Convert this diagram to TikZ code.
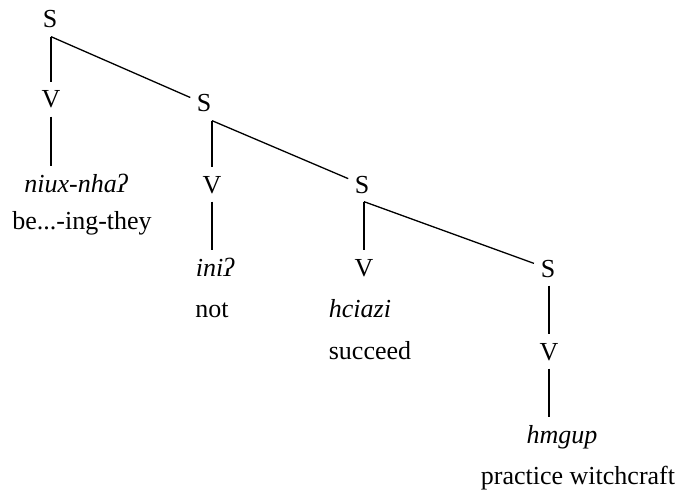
\documentclass[tikz,border=0pt]{standalone}
\usepackage{fontspec}
\setmainfont{Liberation Serif}
\begin{document}
\begin{tikzpicture}[x=1pt, y=-1pt, line width=1.3pt,
    lab/.style={anchor=base, inner xsep=0pt, inner ysep=8pt, text height=17pt, text depth=0pt, font=\fontsize{26}{30}\selectfont},
    word/.style={lab, font=\fontsize{26}{30}\selectfont\itshape},
    branch/.style={shorten >=15pt}]
  \useasboundingbox (0,0) rectangle (677,492);

  \node[lab] (s1) at (50,28) {S};
  \node[lab] (v1) at (51,108) {V};
  \node[word] (w1) at (76,192) {niux-nhaʔ};
  \node[lab] (g1) at (82,229) {be...-ing-they};

  \node[lab] (s2) at (204,112) {S};
  \node[lab] (v2) at (212,193) {V};
  \node[word] (w2) at (215,276) {iniʔ};
  \node[lab] (g2) at (212,317) {not};

  \node[lab] (s3) at (362,193) {S};
  \node[lab] (v3) at (364,276) {V};
  \node[word] (w3) at (360,317) {hciazi};
  \node[lab] (g3) at (370,359) {succeed};

  \node[lab] (s4) at (548,277) {S};
  \node[lab] (v4) at (549,360) {V};
  \node[word] (w4) at (562,443) {hmgup};
  \node[lab] (g4) at (578,484) {practice witchcraft};

  % forks
  \coordinate (f1) at (s1.south -| v1);
  \coordinate (f2) at (s2.south -| v2);
  \coordinate (f3) at (s3.south -| v3);
  \coordinate (f4) at (s4.south -| v4);

  \draw (f1) -- (v1.north);
  \draw[branch] (f1) -- (s2.center);
  \draw (v1.south) -- (w1.north -| v1);

  \draw (f2) -- (v2.north);
  \draw[branch] (f2) -- (s3.center);
  \draw (v2.south) -- (w2.north -| v2);

  \draw (f3) -- (v3.north);
  \draw[branch] (f3) -- (s4.center);

  \draw (f4) -- (v4.north);
  \draw (v4.south) -- (w4.north -| v4);
\end{tikzpicture}
\end{document}
